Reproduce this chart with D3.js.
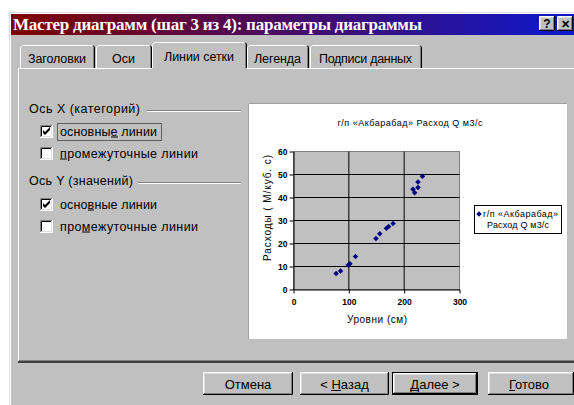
<!DOCTYPE html>
<html><head><meta charset="utf-8">
<script src="https://cdn.jsdelivr.net/npm/d3@7"></script>
<style>
html,body{margin:0;padding:0;background:#fff;overflow:hidden}
svg{display:block}
text{font-family:"Liberation Sans",Arial,sans-serif}
</style></head><body>
<svg id="c" width="574" height="405"></svg>
<script>
// ---------- data ----------
const levels     = [77, 85, 99, 102, 112, 149, 156, 168, 172, 180, 216, 219, 225, 225, 233];
const discharges = [7.0, 8.0, 10.6, 11.2, 14.3, 22.2, 24.2, 26.6, 27.4, 28.7, 43.6, 42.1, 44.3, 46.7, 49.2];
const xTicks = [0, 100, 200, 300];
const yTicks = [0, 10, 20, 30, 40, 50, 60];
const chartTitle = "г/п «Акбарабад» Расход Q м3/с";
const seriesLine1 = "г/п «Акбарабад»";
const seriesLine2 = "Расход Q м3/с";
const xTitle = "Уровни (см)";
const yTitle = "Расходы ( М/куб. с)";
const dialogTitle = "Мастер диаграмм (шаг 3 из 4): параметры диаграммы";
const tabNames = ["Заголовки", "Оси", "Линии сетки", "Легенда", "Подписи данных"];
const groupNames = ["Ось X (категорий)", "Ось Y (значений)"];
const optionNames = ["основные линии", "промежуточные линии", "основные линии", "промежуточные линии"];
const optionChecked = [true, false, true, false];
const buttonNames = ["Отмена", "< Назад", "Далее >", "Готово"];

// ---------- layout ----------
const FS = 12.5;
const tabEdges = [20, 96, 153, 247, 310, 423];
const tabTextLen = [58, null, 70, 47, 93];
const selectedTab = 2;
const optionTop = [125, 147, 198, 220];
const optionTextLen = [97, 138, 97, 138];
const optionUnderline = [7, 0, 4, 3];
const groupY = [113, 185], groupLineY = [110, 182], groupLineX = [147, 138], groupTextLen = [111, 104];
const buttonX = [[203, 293], [300, 389], [392, 478], [488, 574]];
const buttonUnderline = [null, 2, 0, 0];
const GRAY = "#c0c0c0", DARK = "#808080", LIGHT = "#dfdfdf";

const svg = d3.select("#c");

function bevel(g, x, y, w, h, tl1, br1, tl2, br2) {
  g.append("rect").attr("x", x).attr("y", y).attr("width", w).attr("height", h).attr("fill", GRAY);
  g.append("path").attr("d", `M${x+.5},${y+h-1}V${y+.5}H${x+w-1}`).attr("stroke", tl1).attr("fill", "none");
  g.append("path").attr("d", `M${x},${y+h-.5}H${x+w-.5}V${y}`).attr("stroke", br1).attr("fill", "none");
  g.append("path").attr("d", `M${x+1.5},${y+h-2}V${y+1.5}H${x+w-2}`).attr("stroke", tl2).attr("fill", "none");
  g.append("path").attr("d", `M${x+1},${y+h-1.5}H${x+w-1.5}V${y+1}`).attr("stroke", br2).attr("fill", "none");
}
function label(g, txt, x, y, o) {
  o = o || {};
  const t = g.append("text").attr("x", x).attr("y", y)
    .style("font-size", (o.size || FS) + "px").attr("text-anchor", o.anchor || "start")
    .attr("fill", o.fill || "#000").text(txt);
  if (o.weight) t.style("font-weight", o.weight);
  if (o.family) t.style("font-family", o.family);
  if (o.len) t.attr("textLength", o.len).attr("lengthAdjust", "spacing");
  if (o.ul != null) {
    const e = t.node().getExtentOfChar(o.ul);
    g.append("line").attr("x1", Math.round(e.x)).attr("x2", Math.round(e.x + e.width))
      .attr("y1", y + 1.5).attr("y2", y + 1.5).attr("stroke", "#000");
  }
  return t;
}

// ---------- dialog frame ----------
svg.append("rect").attr("width", 574).attr("height", 405).attr("fill", "#fff");
const dlg = svg.append("g");
dlg.append("rect").attr("x", 9).attr("y", 12).attr("width", 570).attr("height", 400).attr("fill", GRAY);
dlg.append("path").attr("d", "M9.5,405V12.5H574").attr("stroke", LIGHT).attr("fill", "none");
dlg.append("path").attr("d", "M10.5,405V13.5H574").attr("stroke", "#fff").attr("fill", "none");

const grad = svg.append("defs").append("linearGradient").attr("id", "tb");
grad.append("stop").attr("offset", "0").attr("stop-color", "#800000");
grad.append("stop").attr("offset", "1").attr("stop-color", "#0c18cc");
dlg.append("rect").attr("x", 11).attr("y", 14).attr("width", 563).attr("height", 21).attr("fill", "url(#tb)");
label(dlg, dialogTitle, 13, 30, {size: 17, weight: "bold", fill: "#fff", family: "'Liberation Serif','Times New Roman',serif", len: 409});

// caption buttons
[[539, "?"], [557, "✕"]].forEach(([bx, s]) => {
  bevel(dlg, bx, 16, 16, 15, "#fff", "#000", LIGHT, DARK);
  label(dlg, s, bx + 8, 28, {size: s === "?" ? 12 : 11, weight: "bold", anchor: "middle"});
});

// ---------- tabs ----------
const tg = dlg.append("g");
function drawTab(i) {
  const sel = i === selectedTab;
  const x0 = tabEdges[i] - (sel ? 1 : 0), x1 = tabEdges[i + 1] - (sel ? 0 : 1);
  const t = sel ? 42 : 45, b = sel ? 69 : 68;
  tg.append("rect").attr("x", x0).attr("y", t).attr("width", x1 - x0).attr("height", b - t).attr("fill", GRAY);
  tg.append("path").attr("d", `M${x0+.5},${b}V${t+2.5}L${x0+2.5},${t+.5}H${x1-2}`).attr("stroke", "#fff").attr("fill", "none");
  tg.append("path").attr("d", `M${x1-1.5},${t+1}V${b}`).attr("stroke", DARK).attr("fill", "none");
  tg.append("path").attr("d", `M${x1-2},${t+.5}L${x1-.5},${t+2}V${b}`).attr("stroke", "#000").attr("fill", "none");
  const cx = (tabEdges[i] + tabEdges[i + 1]) / 2 - 1;
  label(tg, tabNames[i], cx, sel ? 61 : 63, {anchor: "middle", len: tabTextLen[i]});
}
tabNames.forEach((d, i) => { if (i !== selectedTab) drawTab(i); });

// panel
dlg.append("rect").attr("x", 18).attr("y", 68).attr("width", 560).attr("height", 294).attr("fill", GRAY);
dlg.append("path").attr("d", `M18.5,361V68.5H${tabEdges[selectedTab]-1}M${tabEdges[selectedTab+1]},68.5H574`).attr("stroke", "#fff").attr("fill", "none");
dlg.append("path").attr("d", "M19,360.5H574").attr("stroke", DARK);
dlg.append("path").attr("d", "M18,361.5H574").attr("stroke", "#404040");
dlg.append("path").attr("d", "M18,362.5H574").attr("stroke", "#404040");
drawTab(selectedTab);

// ---------- option groups ----------
const og = dlg.append("g");
groupNames.forEach((g, i) => {
  label(og, g, 29, groupY[i], {len: groupTextLen[i]});
  og.append("line").attr("x1", groupLineX[i]).attr("x2", 241).attr("y1", groupLineY[i] + .5).attr("y2", groupLineY[i] + .5).attr("stroke", DARK);
  og.append("line").attr("x1", groupLineX[i]).attr("x2", 241).attr("y1", groupLineY[i] + 1.5).attr("y2", groupLineY[i] + 1.5).attr("stroke", "#fff");
});
optionNames.forEach((name, i) => {
  const x = 40, y = optionTop[i];
  og.append("rect").attr("x", x).attr("y", y).attr("width", 13).attr("height", 13).attr("fill", "#fff");
  og.append("path").attr("d", `M${x+.5},${y+13}V${y+.5}H${x+13}`).attr("stroke", DARK).attr("fill", "none");
  og.append("path").attr("d", `M${x+1.5},${y+12}V${y+1.5}H${x+12}`).attr("stroke", "#000").attr("fill", "none");
  og.append("path").attr("d", `M${x},${y+12.5}H${x+12.5}V${y}`).attr("stroke", "#fff").attr("fill", "none");
  og.append("path").attr("d", `M${x+1},${y+11.5}H${x+11.5}V${y+1}`).attr("stroke", LIGHT).attr("fill", "none");
  if (optionChecked[i]) {
    og.append("path").attr("d", `M${x+3},${y+5}L${x+5},${y+7}L${x+10},${y+2}V${y+5}L${x+5},${y+10}L${x+3},${y+8}Z`).attr("fill", "#000");
  }
  label(og, name, 60, y + 10.5, {len: optionTextLen[i], ul: optionUnderline[i]});
});
og.append("rect").attr("x", 57.5).attr("y", 123.5).attr("width", 104).attr("height", 17)
  .attr("fill", "none").attr("stroke", "#000").attr("stroke-dasharray", "1,1");

// ---------- buttons ----------
const bg = dlg.append("g");
buttonNames.forEach((b, i) => {
  const [x0, x1] = buttonX[i];
  if (i === 2) {
    bg.append("rect").attr("x", x0 + .5).attr("y", 372.5).attr("width", x1 - x0 - 1).attr("height", 22).attr("fill", "none").attr("stroke", "#000");
    bevel(bg, x0 + 1, 373, x1 - x0 - 2, 21, "#fff", "#000", LIGHT, DARK);
  } else {
    bevel(bg, x0, 372, x1 - x0, 23, "#fff", "#000", LIGHT, DARK);
  }
  label(bg, b, (x0 + x1) / 2 + (i === 3 ? -2 : 0), 389, {anchor: "middle", size: 13, ul: buttonUnderline[i]});
});

// ---------- chart preview ----------
const cg = svg.append("g");
cg.append("rect").attr("x", 248).attr("y", 103).attr("width", 319).attr("height", 236).attr("fill", "#fff");
cg.append("path").attr("d", "M248.5,339V103.5H567").attr("stroke", "#a0a0a0").attr("fill", "none");

const x = d3.scaleLinear().domain([0, 300]).range([293.5, 459.5]);
const y = d3.scaleLinear().domain([0, 60]).range([289.5, 151.5]);

cg.append("rect").attr("x", x(0)).attr("y", y(60)).attr("width", x(300) - x(0)).attr("height", y(0) - y(60))
  .attr("fill", GRAY).attr("stroke", DARK);

cg.append("g").selectAll("line").data(yTicks.filter(v => v > 0 && v < 60)).join("line")
  .attr("x1", x(0)).attr("x2", x(300)).attr("y1", d => y(d)).attr("y2", d => y(d)).attr("stroke", "#000");
cg.append("g").selectAll("line").data(xTicks.filter(v => v > 0 && v < 300)).join("line")
  .attr("x1", d => x(d)).attr("x2", d => x(d)).attr("y1", y(0)).attr("y2", y(60)).attr("stroke", "#000");

const yAxis = cg.append("g").attr("transform", `translate(${x(0)},0)`)
  .call(d3.axisLeft(y).tickValues(yTicks).tickSize(4).tickSizeOuter(0).tickPadding(2).tickFormat(d3.format("d")));
const xAxis = cg.append("g").attr("transform", `translate(0,${y(0)})`)
  .call(d3.axisBottom(x).tickValues(xTicks).tickSize(4).tickSizeOuter(0).tickPadding(5).tickFormat(d3.format("d")));
[yAxis, xAxis].forEach(a => {
  a.select(".domain").attr("stroke", "#000");
  a.selectAll(".tick line").attr("stroke", "#000");
  a.selectAll(".tick text").style("font-size", "8.5px").style("font-weight", "bold").attr("fill", "#000");
});

const sym = d3.symbol().type(d3.symbolSquare).size(15);
cg.append("g").selectAll("path").data(levels.map((l, i) => [l, discharges[i]])).join("path")
  .attr("d", sym).attr("fill", "#000080")
  .attr("transform", d => `translate(${x(d[0])},${y(d[1])}) rotate(45)`);

label(cg, chartTitle, 410, 126, {size: 9, anchor: "middle", len: 145});
label(cg, xTitle, 377, 323, {size: 10, anchor: "middle", len: 60});
cg.append("text").attr("transform", "translate(271,208) rotate(-90)").attr("text-anchor", "middle")
  .style("font-size", "10px").attr("textLength", 106).attr("lengthAdjust", "spacing").text(yTitle);

// legend
cg.append("rect").attr("x", 474.5).attr("y", 205.5).attr("width", 87).attr("height", 28).attr("fill", "#fff").attr("stroke", "#000");
cg.append("path").attr("d", sym).attr("fill", "#000080").attr("transform", "translate(479,214) rotate(45)");
label(cg, seriesLine1, 483, 217, {size: 9, len: 75});
label(cg, seriesLine2, 518, 228, {size: 9, anchor: "middle", len: 62});
</script>
</body></html>
